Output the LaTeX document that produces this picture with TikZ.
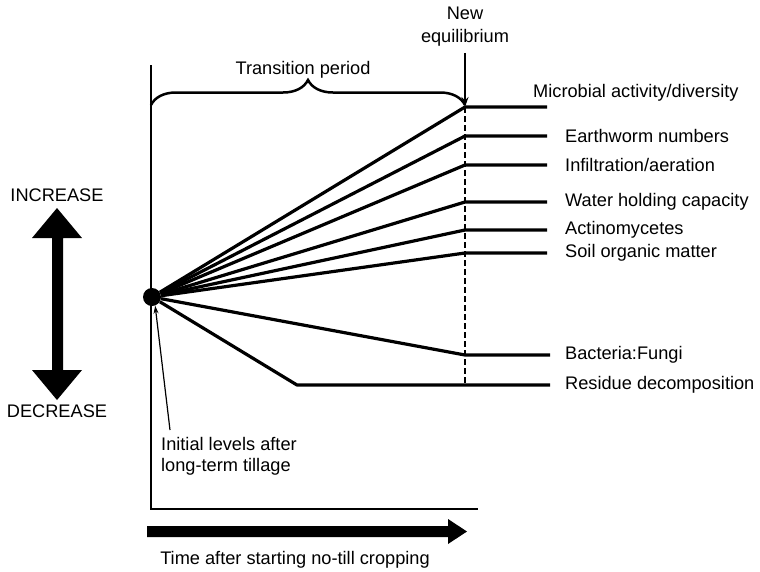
\documentclass[tikz,border=0pt]{standalone}
\usepackage{fontspec}
\setmainfont{Liberation Sans}
\usetikzlibrary{positioning,decorations.pathreplacing,arrows.meta}

\begin{document}
\begin{tikzpicture}[x=1pt,y=-1pt,
    every node/.style={font=\fontsize{18.2}{21}\selectfont, inner sep=0pt},
    trend/.style={line width=3.2pt, line join=round},
    lbl/.style={anchor=west}]
  \useasboundingbox (0,0) rectangle (760,571);

  % axes
  \coordinate (top) at (151,65);
  \coordinate (origin) at (151,509);
  \coordinate (xend) at (478,509);
  \draw[line width=2pt] (top) -- (origin) -- (xend);

  % starting level
  \node[circle, fill, minimum size=18pt] (init) at (152,297) {};

  % new equilibrium
  \coordinate (mic) at (465,107);
  \coordinate (ew) at (465,136);
  \coordinate (inf) at (465,165);
  \coordinate (wat) at (465,202);
  \coordinate (act) at (465,230);
  \coordinate (som) at (465,253);
  \coordinate (bf) at (465,355);
  \coordinate (res) at (465,385);
  \coordinate (kink) at (297,385);
  \draw[line width=2.3pt, dash pattern=on 6pt off 3pt] (mic) -- (res);

  \draw[trend] (init) -- (mic) -- ++(82,0) coordinate (micE);
  \draw[trend] (init) -- (ew) -- ++(82,0) coordinate (ewE);
  \draw[trend] (init) -- (inf) -- ++(82,0) coordinate (infE);
  \draw[trend] (init) -- (wat) -- ++(82,0) coordinate (watE);
  \draw[trend] (init) -- (act) -- ++(82,0) coordinate (actE);
  \draw[trend] (init) -- (som) -- ++(82,0) coordinate (somE);
  \draw[trend] (init) -- (bf) -- ++(85,0) coordinate (bfE);
  \draw[trend] (init) -- (kink) -- (res) -- ++(85,0) coordinate (resE);

  % labels
  \node[lbl] (micL) at (533,93) {Microbial activity/diversity};
  \node[right=18pt of ewE] (ewL) {Earthworm numbers};
  \node[right=18pt of infE] (infL) {Infiltration/aeration};
  \node[right=18pt of watE] (watL) {Water holding capacity};
  \node[right=18pt of actE] (actL) {Actinomycetes};
  \node[right=18pt of somE] (somL) {Soil organic matter};
  \node[right=15pt of bfE] (bfL) {Bacteria:Fungi};
  \node[right=15pt of resE] (resL) {Residue decomposition};

  % transition period
  \draw[line width=2.5pt, decorate, decoration={brace, amplitude=25pt}]
    (151,105) -- (465,105);
  \node (trans) at (303,70) {Transition period};
  \node[align=center, font=\fontsize{18.2}{23}\selectfont] (neweq) at (465,27) {New\\equilibrium};
  \draw[line width=1.6pt, -{Stealth[length=10pt,width=7pt]}, shorten <=6pt]
    (neweq.south) -- (mic);

  % increase / decrease
  \node (inc) at (57,195) {INCREASE};
  \node (dec) at (57,411) {DECREASE};
  \fill (52,238) -- (32,238) -- (57,208) -- (82,238) -- (63,238) -- (63,370)
    -- (82,370) -- (57,400) -- (32,370) -- (52,370) -- cycle;

  % initial levels
  \node[align=left, anchor=north west] (initL) at (161,437) {Initial levels after\\long-term tillage};
  \draw[line width=1.2pt, -{Stealth[length=8pt,width=5pt]}]
    ([xshift=9pt,yshift=7pt]initL.north west) -- (init.-70);

  % time
  \fill (147,526) -- (448,526) -- (448,519) -- (467,531.5) -- (448,544)
    -- (448,537) -- (147,537) -- cycle;
  \node (time) at (295,560) {Time after starting no-till cropping};
\end{tikzpicture}
\end{document}
